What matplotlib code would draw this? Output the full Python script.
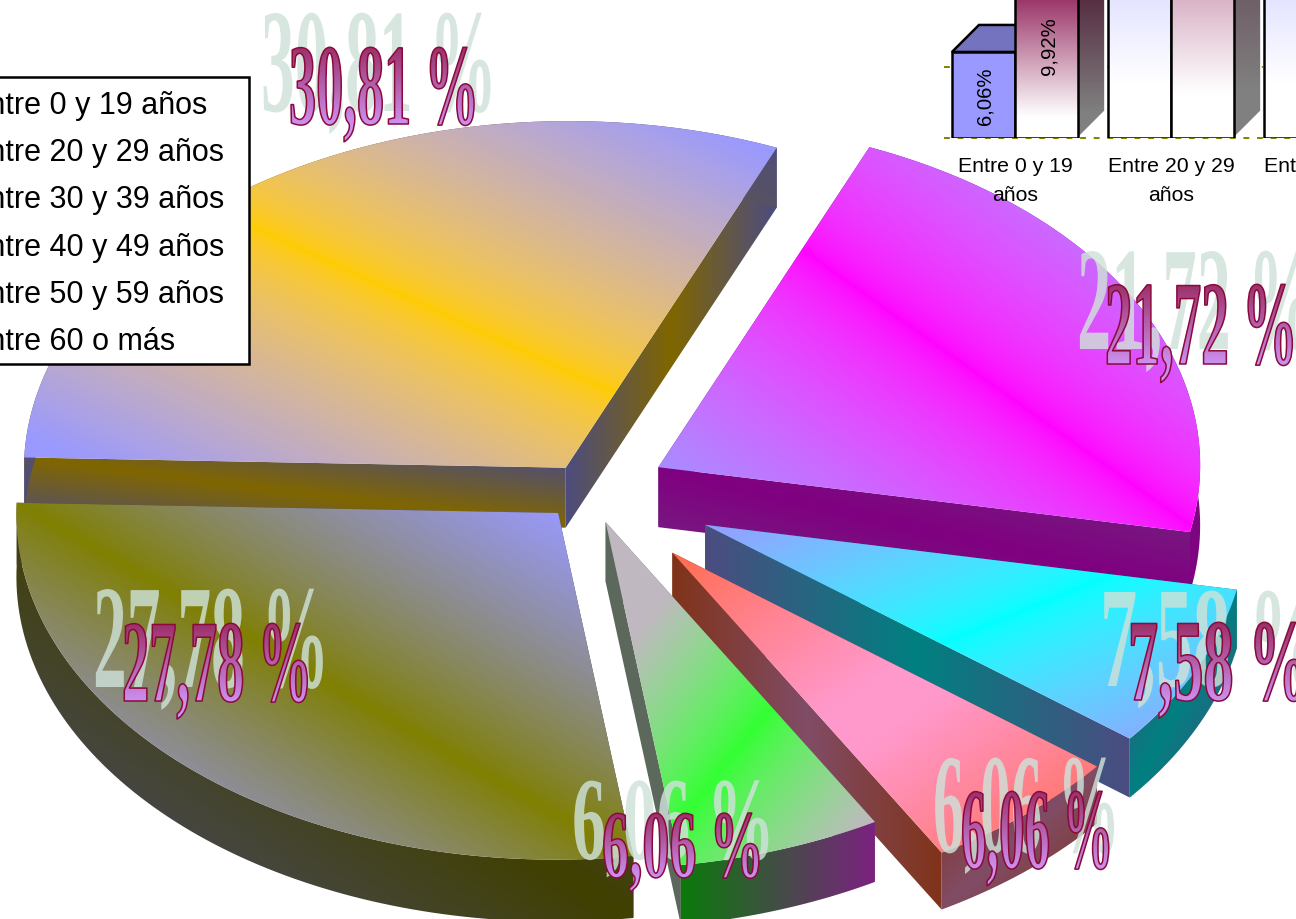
import numpy as np
import matplotlib
matplotlib.use("Agg")
import matplotlib.pyplot as plt
from matplotlib.colors import to_rgb
from matplotlib.patches import Polygon, Rectangle
from matplotlib.patheffects import AbstractPathEffect
from matplotlib.transforms import Affine2D, TransformedPath

# ---------- data ----------
pie_categories = ["Entre 60 o más", "Entre 20 y 29 años", "Entre 0 y 19 años",
                  "Entre 30 y 39 años", "Entre 40 y 49 años", "Entre 50 y 59 años"]
pie_values = [30.81, 21.72, 7.58, 6.06, 6.06, 27.78]
legend_labels = ["Entre 0 y 19 años", "Entre 20 y 29 años", "Entre 30 y 39 años",
                 "Entre 40 y 49 años", "Entre 50 y 59 años", "Entre 60 o más"]
bar_labels = ["Entre 0 y 19\naños", "Entre 20 y 29\naños", "Entre 30 y 39\naños"]
bar_series_a = [6.06, 26.0, 26.0]
bar_series_b = [9.92, 21.0, 21.0]
bar_texts = {(0, 0): "6,06%", (0, 1): "9,92%"}

# ---------- styles ----------
explode = [0.08, 0.145, 0.236, 0.236, 0.095, 0.085]
depth_px = [60, 60, 59, 57, 60, 62]
top_center = ["#FFCC00", "#FF00FF", "#00FFFF", "#FF99CC", "#33FF33", "#808000"]
top_edge = ["#9999FF", "#9999FF", "#9999FF", "#FF6633", "#C0B8C0", "#9999FF"]
side_center = ["#806600", "#800080", "#008080", "#804C66", "#0A7A0A", "#404000"]
side_edge = ["#4C4C80", "#6F3080", "#4C4C80", "#803319", "#7B2280", "#4C4C80"]
cut_center = ["#806600", "#800080", "#008080", "#804C66", "#5C685C", "#404000"]
cut_edge = ["#4C4C80", "#6F3080", "#4C4C80", "#803319", "#5C685C", "#4C4C80"]
top_mode = ["main", "main", "anti", "anti", "anti", "main"]
rim_mode = ["main", "main", "anti", "anti", "ramp", "main"]
top_gain = [1.1, 1.05, 1.0, 1.0, 1.4, 1.15]
top_shift = [0, 0, 0, 0, 0.15, 0]
top_dead = [0, 0, 0, 0.1, 0, 0]
top_gamma = [1.6, 1.6, 1.5, 1.5, 1.5, 1.2]
# left x, baseline y, width, digit height of each WordArt label and its shadow
label_box = [(289, 125, 183, 78), (1105, 365, 185, 81), (1128, 701, 172, 79),
             (961, 869, 146, 78), (602, 878, 155, 65), (122, 702, 183, 79)]
shadow_box = [(261, 112, 227, 100), (1077, 350, 230, 100), (1100, 687, 212, 97),
              (933, 853, 179, 96), (572, 860, 194, 80), (93, 688, 227, 100)]

plt.rcParams["font.family"] = ["Liberation Sans", "DejaVu Sans"]
W, H = 1296, 920
fig = plt.figure(figsize=(W / 100, H / 100), dpi=100, facecolor="white")
ax = fig.add_axes([0, 0, 1, 1])
ax.axis("off")

pie_tf = Affine2D.from_values(499, 133.2, 211, -320, 589, 492)


def rgb(c):
    return np.array(to_rgb(c))


def gradient_face(axis, poly, center, edge, mode, z, gain=1.0, shift=0.0, dead=0.0, gamma=1.0):
    poly = np.asarray(poly)
    x0, y0 = np.floor(poly.min(axis=0))
    x1, y1 = np.ceil(poly.max(axis=0))
    nx, ny = max(int(x1 - x0), 2), max(int(y1 - y0), 2)
    u, v = np.meshgrid(np.linspace(0, 1, nx), np.linspace(0, 1, ny))
    if mode == "main":
        t = np.abs(u - v - shift)
    elif mode == "anti":
        t = np.abs(u + v - 1 - shift)
    elif mode == "along":
        t = np.abs(2 * u - 1)
    else:
        t = u
    t = np.clip((t - dead) * gain, 0, 1)[..., None]
    img = (rgb(center) ** gamma * (1 - t) + rgb(edge) ** gamma * t) ** (1 / gamma)
    im = axis.imshow(img, extent=(x0, x1, y1, y0), interpolation="bilinear",
                     aspect="auto", zorder=z)
    im.set_clip_path(Polygon(poly, closed=True, transform=axis.transData))


# ---------- exploded 3-D pie ----------
fractions = np.array(pie_values) / sum(pie_values)
edges = np.cumsum(np.r_[0, fractions]) * 360 - pie_values[0] * 360 / sum(pie_values)
z = 1
for i in range(len(pie_values)):
    th = np.radians(np.linspace(edges[i], edges[i + 1], 90))
    mid = np.radians((edges[i] + edges[i + 1]) / 2)
    off = explode[i] * np.array([np.sin(mid), np.cos(mid)])
    arc = pie_tf.transform(np.c_[np.sin(th), np.cos(th)] + off)
    apex = pie_tf.transform(off[None, :])
    down = np.array([0, depth_px[i]])
    for end in (arc[0], arc[-1]):
        quad = np.array([apex[0], end, end + down, apex[0] + down])
        slope = abs(end[1] - apex[0][1]) / max(abs(end[0] - apex[0][0]), 1)
        gradient_face(ax, quad, cut_center[i], cut_edge[i],
                      "along" if slope > 0.3 else "main", z)
        z += 1
    rim = np.vstack([arc, (arc + down)[::-1]])
    gradient_face(ax, rim, side_center[i], side_edge[i], rim_mode[i], z)
    z += 1
    top = np.vstack([apex, arc])
    gradient_face(ax, top, top_center[i], top_edge[i], top_mode[i], z,
                  top_gain[i], top_shift[i], top_dead[i], top_gamma[i])
    z += 1


# ---------- WordArt text ----------
class WordArt(AbstractPathEffect):
    def __init__(self, width, height, fontsize, solid=None, alpha=1.0):
        super().__init__()
        self.width, self.height = width, height
        self.px = fontsize * 100 / 72
        self.solid, self.alpha = solid, alpha

    def draw_path(self, renderer, gc, tpath, affine, rgbFace=None):
        base = tpath.get_extents(affine)
        sx = self.width / base.width
        sy = self.height / (0.676 * self.px)
        tr = Affine2D().scale(sx, sy) + affine
        if self.solid is not None:
            g = renderer.new_gc()
            g.copy_properties(gc)
            g.set_linewidth(0)
            g.set_alpha(self.alpha)
            renderer.draw_path(g, tpath, tr, (*to_rgb(self.solid), self.alpha))
            g.restore()
            return
        ext = tpath.get_extents(tr)
        nx, ny = int(ext.width) + 3, int(ext.height) + 3
        frac = np.clip(np.linspace(0, 1, ny) * ny / self.height, 0, 1)[:, None, None]
        rows = rgb("#9C2F68") * (1 - frac) + rgb("#CC90F0") * frac
        im = np.ones((ny, nx, 4), dtype=np.uint8) * 255
        im[..., :3] = (np.repeat(rows, nx, axis=1) * 255).astype(np.uint8)
        g = renderer.new_gc()
        g.copy_properties(gc)
        g.set_clip_path(TransformedPath(tpath, tr))
        renderer.draw_image(g, int(ext.x0) - 1, int(ext.y0) - 1, im[::-1])
        g.restore()
        s = renderer.new_gc()
        s.copy_properties(gc)
        s.set_foreground("#8B0A3C")
        s.set_linewidth(1.1)
        renderer.draw_path(s, tpath, tr, None)
        s.restore()


FS = 36
for v, lb, sb in zip(pie_values, label_box, shadow_box):
    s = f"{v:.2f} %".replace(".", ",")
    ax.text(sb[0], sb[1], s, family="Liberation Serif", weight="bold", fontsize=FS,
            va="baseline", ha="left", zorder=100,
            path_effects=[WordArt(sb[2], sb[3], FS, solid="#CFE2D9", alpha=0.82)])
    ax.text(lb[0], lb[1], s, family="Liberation Serif", weight="bold", fontsize=FS,
            va="baseline", ha="left", zorder=101,
            path_effects=[WordArt(lb[2], lb[3], FS)])

# ---------- legend (runs off the left edge) ----------
ax.add_patch(Rectangle((-20, 78), 269, 287, facecolor="white", edgecolor="black",
                       linewidth=1.8, zorder=110))
for k, name in enumerate(legend_labels):
    ax.text(-32, 106 + k * 47.2, name, fontsize=22.0, va="center", ha="left",
            color="black", zorder=111)

ax.set_xlim(0, W)
ax.set_ylim(H, 0)

# ---------- inset 3-D bars (run off the top and right edges) ----------
PX_X, PX_Y = 156.0, 14.2
BASE = 139
bx = fig.add_axes([944 / W, (H - BASE) / H, 556 / W, (BASE + 100) / H], zorder=5)
bx.patch.set_alpha(0)
for sp in bx.spines.values():
    sp.set_visible(False)
bx.set_yticks([0, 5])
bx.tick_params(axis="y", length=0, labelleft=False)
bx.set_xticks(range(len(bar_labels)), bar_labels, fontsize=15.3, linespacing=1.65)
bx.tick_params(axis="x", length=0, pad=13, colors="black")
bx.grid(axis="y", color="#808000", linestyle=(0, (3, 4)), linewidth=1.4, zorder=0)
for gl in bx.get_ygridlines():
    gl.set_clip_on(False)
bx.set_axisbelow(True)

bw = 63 / PX_X
ddx, ddy = 27 / PX_X, 27 / PX_Y
zb = 2
series = [(bar_series_a, "#9999FF", -1), (bar_series_b, "#993366", 0)]
for c in range(len(bar_labels)):
    for s_idx, (vals, col, shift) in enumerate(series):
        left = c + shift * bw
        h = vals[c]
        solid = c == 0 and s_idx == 0
        yy = np.linspace(1, 0, 300)[:, None, None]
        t = np.ones_like(yy) if solid else np.clip((yy - 0.15) / 0.85, 0, 1)
        rc = rgb(col)
        # right side face
        side = Polygon([(left + bw, 0), (left + bw + ddx, ddy), (left + bw + ddx, h + ddy),
                        (left + bw, h)], closed=True, transform=bx.transData)
        si = bx.imshow(rgb("#808080") * (1 - t) + rc * 0.5 * t, aspect="auto",
                       extent=(left + bw, left + bw + ddx, 0, h + ddy), zorder=zb,
                       interpolation="bilinear")
        si.set_clip_path(side)
        bx.plot([left + bw, left + bw + ddx, left + bw + ddx], [0, ddy, h + ddy],
                color="white", lw=1.2, zorder=zb)
        # top face
        bx.add_patch(Polygon([(left, h), (left + ddx, h + ddy), (left + bw + ddx, h + ddy),
                              (left + bw, h)], closed=True, facecolor=rc * 0.75,
                             edgecolor="black", lw=1.8, zorder=zb))
        # front face
        bar = bx.bar(left, h, width=bw, align="edge", facecolor="none", edgecolor="black",
                     linewidth=1.8, zorder=zb + 2)[0]
        fi = bx.imshow(rc * t + (1 - t), aspect="auto", extent=(left, left + bw, 0, h),
                       zorder=zb + 1, interpolation="bilinear")
        fi.set_clip_path(Rectangle((left, 0), bw, h, transform=bx.transData))
        if (c, s_idx) in bar_texts:
            yc = h / 2 if s_idx == 0 else h * 0.66
            bx.text(left + bw * 0.5 + 2 / PX_X, yc, bar_texts[(c, s_idx)], rotation=90,
                    ha="center", va="center", fontsize=14.6, color="black", zorder=zb + 3)
        zb += 4
bx.set_xlim(-71 / PX_X, (1500 - 1015) / PX_X)
bx.set_ylim(0, (BASE + 100) / PX_Y)

fig.savefig("out.png", dpi=100, facecolor="white")
